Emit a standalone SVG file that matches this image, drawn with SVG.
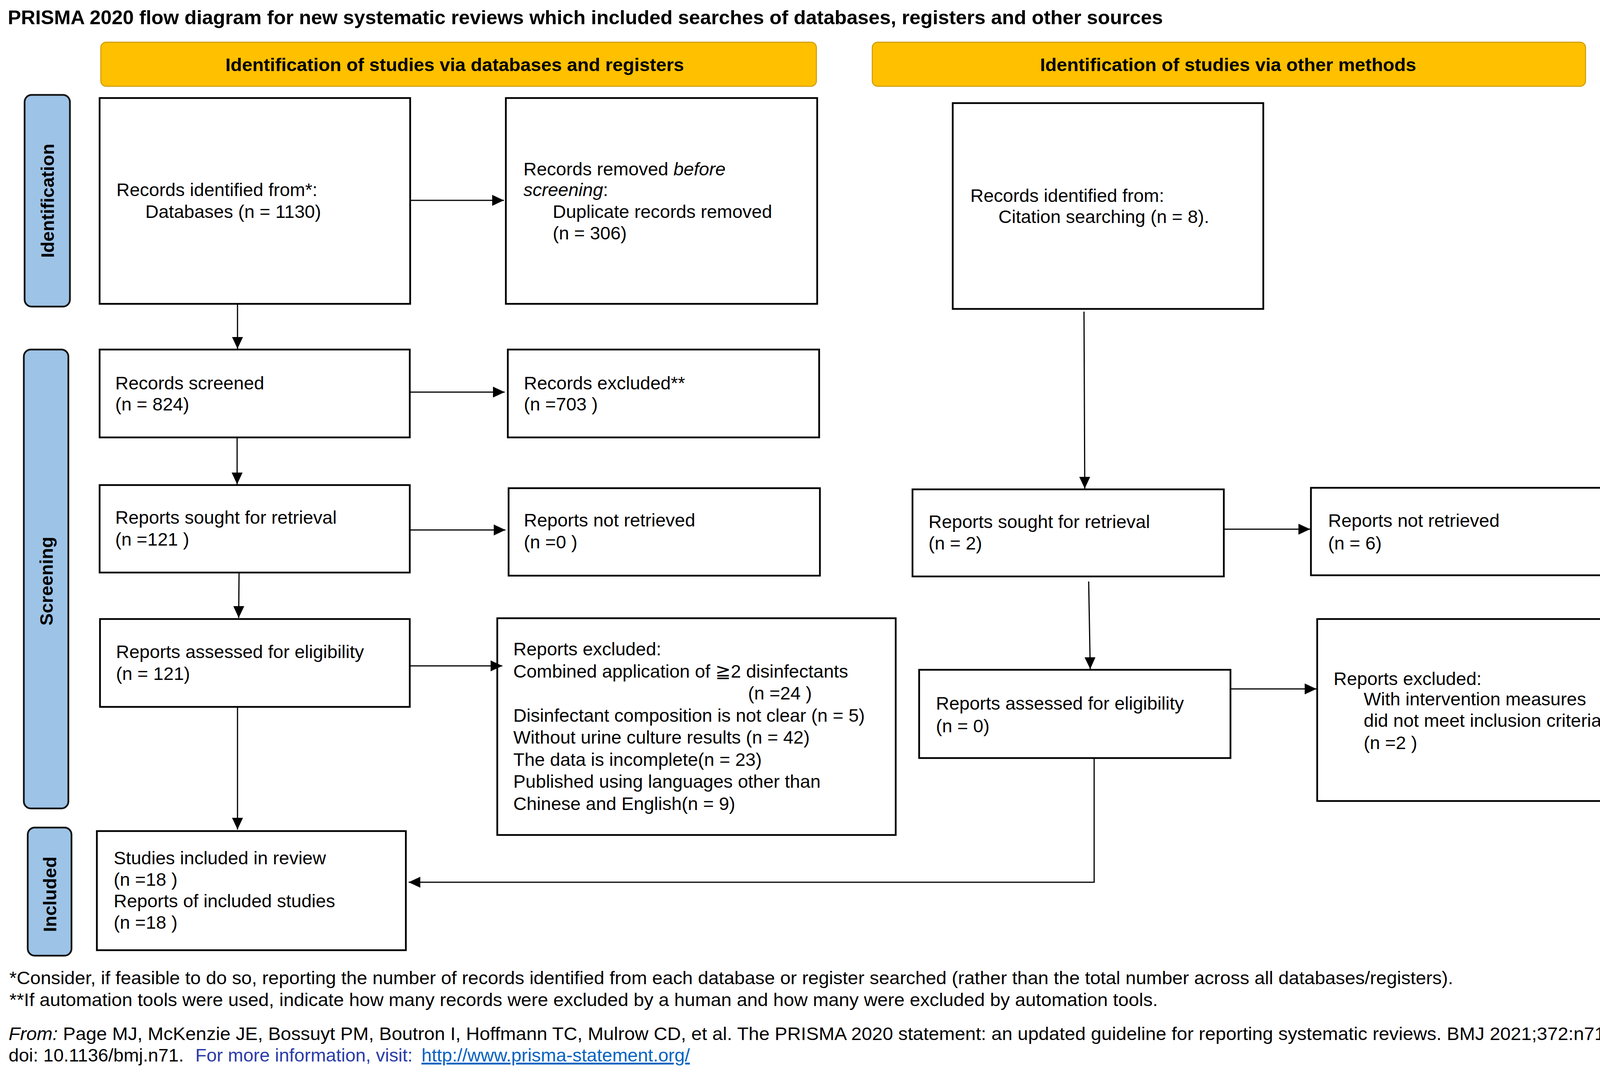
<svg xmlns="http://www.w3.org/2000/svg" width="4189" height="2750" viewBox="0 0 4189 2750">
<style>
.bg{fill:#ffffff}
.box{fill:#ffffff;stroke:#000000;stroke-width:4.5}
.hdr{fill:#FFC000;stroke:#CC9A00;stroke-width:2.5}
.side{fill:#9DC3E6;stroke:#141414;stroke-width:4.5}
.conn{stroke:#000000;stroke-width:3;fill:none}
.t{font-family:"Liberation Sans","DejaVu Sans",Arial,sans-serif;font-size:47px;fill:#000000}
.it{font-style:italic}
.title{font-family:"Liberation Sans",Arial,sans-serif;font-size:50px;font-weight:bold;fill:#000000}
.ht{font-family:"Liberation Sans",Arial,sans-serif;font-size:46px;font-weight:bold;fill:#000000}
.st{font-family:"Liberation Sans",Arial,sans-serif;font-size:47px;font-weight:bold;fill:#000000}
.fn{font-family:"Liberation Sans",Arial,sans-serif;font-size:47px;fill:#000000}
.blue{fill:#2A3CA8}
.link{fill:#0563C1;text-decoration:underline}
</style>
<defs>
<marker id="arr" markerUnits="userSpaceOnUse" markerWidth="32" markerHeight="30" refX="30" refY="14" orient="auto">
<path d="M0,0 L30,14 L0,28 Z" fill="#000000"/>
</marker>
</defs>
<rect class="bg" x="0" y="0" width="4189" height="2750"/>

<g id="title">
<text class="title" x="20" y="62" textLength="2957" lengthAdjust="spacingAndGlyphs">PRISMA 2020 flow diagram for new systematic reviews which included searches of databases, registers and other sources</text>
</g>

<g id="header-databases">
<rect class="hdr" x="258" y="108" width="1832" height="113" rx="14"/>
<text class="ht" x="1164" y="182" text-anchor="middle" textLength="1174" lengthAdjust="spacingAndGlyphs">Identification of studies via databases and registers</text>
</g>
<g id="header-other">
<rect class="hdr" x="2233" y="108" width="1826" height="113" rx="14"/>
<text class="ht" x="3144" y="182" text-anchor="middle" textLength="963" lengthAdjust="spacingAndGlyphs">Identification of studies via other methods</text>
</g>

<g id="label-identification">
<rect class="side" x="63" y="243" width="116" height="542" rx="18"/>
<text class="st" transform="translate(138,514) rotate(-90)" text-anchor="middle">Identification</text>
</g>
<g id="label-screening">
<rect class="side" x="61" y="895" width="114" height="1175" rx="18"/>
<text class="st" transform="translate(135,1488) rotate(-90)" text-anchor="middle">Screening</text>
</g>
<g id="label-included">
<rect class="side" x="71" y="2119" width="112" height="328" rx="18"/>
<text class="st" transform="translate(144,2290) rotate(-90)" text-anchor="middle">Included</text>
</g>

<g id="records-identified">
<rect class="box" x="255" y="251" width="795" height="527"/>
<text class="t" x="298" y="502">Records identified from*:</text>
<text class="t" x="372" y="558">Databases (n = 1130)</text>
</g>
<g id="records-removed">
<rect class="box" x="1295" y="251" width="797" height="527"/>
<text class="t" x="1340" y="449">Records removed <tspan class="it">before</tspan></text>
<text class="t" x="1340" y="502"><tspan class="it">screening</tspan>:</text>
<text class="t" x="1415" y="558">Duplicate records removed</text>
<text class="t" x="1415" y="613">(n = 306)</text>
</g>
<g id="records-identified-other">
<rect class="box" x="2439" y="264" width="795" height="527"/>
<text class="t" x="2484" y="517">Records identified from:</text>
<text class="t" x="2556" y="571">Citation searching (n = 8).</text>
</g>
<g id="records-screened">
<rect class="box" x="255" y="895" width="794" height="225"/>
<text class="t" x="295" y="997">Records screened</text>
<text class="t" x="295" y="1051">(n = 824)</text>
</g>
<g id="records-excluded">
<rect class="box" x="1300" y="895" width="797" height="225"/>
<text class="t" x="1341" y="997">Records excluded**</text>
<text class="t" x="1341" y="1051">(n =703 )</text>
</g>
<g id="reports-sought">
<rect class="box" x="255" y="1242" width="794" height="224"/>
<text class="t" x="295" y="1341">Reports sought for retrieval</text>
<text class="t" x="295" y="1397">(n =121 )</text>
</g>
<g id="reports-not-retrieved">
<rect class="box" x="1302" y="1250" width="797" height="224"/>
<text class="t" x="1341" y="1348">Reports not retrieved</text>
<text class="t" x="1341" y="1404">(n =0 )</text>
</g>
<g id="reports-sought-other">
<rect class="box" x="2336" y="1253" width="797" height="223"/>
<text class="t" x="2377" y="1352">Reports sought for retrieval</text>
<text class="t" x="2377" y="1407">(n = 2)</text>
</g>
<g id="reports-not-retrieved-other">
<rect class="box" x="3356" y="1249" width="805" height="224"/>
<text class="t" x="3400" y="1349">Reports not retrieved</text>
<text class="t" x="3400" y="1407">(n = 6)</text>
</g>
<g id="reports-assessed">
<rect class="box" x="256" y="1585" width="793" height="225"/>
<text class="t" x="297" y="1685">Reports assessed for eligibility</text>
<text class="t" x="297" y="1741">(n = 121)</text>
</g>
<g id="reports-excluded">
<rect class="box" x="1273" y="1583" width="1020" height="555"/>
<text class="t" x="1314" y="1678">Reports excluded:</text>
<text class="t" x="1314" y="1735">Combined application of ≧2 disinfectants</text>
<text class="t" x="1915" y="1791">(n =24 )</text>
<text class="t" x="1314" y="1848">Disinfectant composition is not clear (n = 5)</text>
<text class="t" x="1314" y="1904">Without urine culture results (n = 42)</text>
<text class="t" x="1314" y="1961">The data is incomplete(n = 23)</text>
<text class="t" x="1314" y="2017">Published using languages other than</text>
<text class="t" x="1314" y="2074">Chinese and English(n = 9)</text>
</g>
<g id="reports-assessed-other">
<rect class="box" x="2353" y="1715" width="797" height="226"/>
<text class="t" x="2396" y="1817">Reports assessed for eligibility</text>
<text class="t" x="2396" y="1875">(n = 0)</text>
</g>
<g id="reports-excluded-other">
<rect class="box" x="3372" y="1585" width="805" height="466"/>
<text class="t" x="3414" y="1754">Reports excluded:</text>
<text class="t" x="3491" y="1806">With intervention measures</text>
<text class="t" x="3491" y="1861">did not meet inclusion criteria</text>
<text class="t" x="3491" y="1918">(n =2 )</text>
</g>
<g id="studies-included">
<rect class="box" x="248" y="2128" width="791" height="305"/>
<text class="t" x="291" y="2213">Studies included in review</text>
<text class="t" x="291" y="2268">(n =18 )</text>
<text class="t" x="291" y="2323">Reports of included studies</text>
<text class="t" x="291" y="2378">(n =18 )</text>
</g>

<g id="connectors">
<line class="conn" x1="1050" y1="513" x2="1290" y2="513" marker-end="url(#arr)"/>
<line class="conn" x1="608" y1="778" x2="608" y2="893" marker-end="url(#arr)"/>
<line class="conn" x1="1049" y1="1004" x2="1292" y2="1004" marker-end="url(#arr)"/>
<line class="conn" x1="607" y1="1120" x2="607" y2="1240" marker-end="url(#arr)"/>
<line class="conn" x1="1049" y1="1357" x2="1294" y2="1357" marker-end="url(#arr)"/>
<line class="conn" x1="612" y1="1466" x2="611" y2="1582" marker-end="url(#arr)"/>
<line class="conn" x1="1049" y1="1705" x2="1286" y2="1705" marker-end="url(#arr)"/>
<line class="conn" x1="608" y1="1810" x2="608" y2="2124" marker-end="url(#arr)"/>
<line class="conn" x1="2775" y1="798" x2="2777" y2="1251" marker-end="url(#arr)"/>
<line class="conn" x1="3133" y1="1355" x2="3354" y2="1355" marker-end="url(#arr)"/>
<line class="conn" x1="2787" y1="1489" x2="2791" y2="1713" marker-end="url(#arr)"/>
<line class="conn" x1="3150" y1="1764" x2="3370" y2="1764" marker-end="url(#arr)"/>
<polyline class="conn" points="2801,1941 2801,2259 1046,2259" marker-end="url(#arr)"/>
</g>

<g id="footnotes">
<text class="fn" x="24" y="2520" textLength="3696" lengthAdjust="spacingAndGlyphs">*Consider, if feasible to do so, reporting the number of records identified from each database or register searched (rather than the total number across all databases/registers).</text>
<text class="fn" x="24" y="2576" textLength="2940" lengthAdjust="spacingAndGlyphs">**If automation tools were used, indicate how many records were excluded by a human and how many were excluded by automation tools.</text>
<text class="fn" x="22" y="2663" textLength="4100" lengthAdjust="spacingAndGlyphs"><tspan class="it">From: </tspan> Page MJ, McKenzie JE, Bossuyt PM, Boutron I, Hoffmann TC, Mulrow CD, et al. The PRISMA 2020 statement: an updated guideline for reporting systematic reviews. BMJ 2021;372:n71.</text>
<text class="fn" x="22" y="2718">doi: 10.1136/bmj.n71. <tspan class="blue" x="500">For more information, visit: </tspan><tspan class="link" x="1079">http://www.prisma-statement.org/</tspan></text>
</g>
</svg>
